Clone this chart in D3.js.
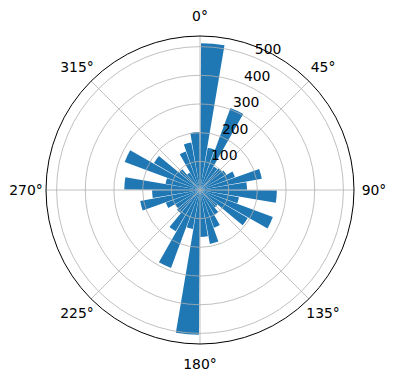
<!DOCTYPE html>
<html>
<head>
<meta charset="utf-8">
<script src="https://cdn.jsdelivr.net/npm/d3@7"></script>
<style>
  body { margin: 0; background: #fff; }
  text { font-family: "DejaVu Sans", sans-serif; }
</style>
</head>
<body>
<div class="js-polar"></div>
<script>
// bin start angles (degrees) and counts per 10 degree bin
var binStarts = [0, 10, 20, 30, 40, 50, 60, 70, 80, 90, 100, 110, 120, 130, 140, 150, 160, 170,
                 180, 190, 200, 210, 220, 230, 240, 250, 260, 270, 280, 290, 300, 310, 320, 330, 340, 350];
var counts = [512, 150, 305, 95, 100, 106, 130, 219, 164, 268, 138, 271, 193, 80, 100, 140, 191, 164,
              505, 138, 290, 167, 105, 100, 127, 212, 167, 264, 122, 280, 186, 95, 70, 143, 168, 202];
var radialTicks = [100, 200, 300, 400, 500];
var angleTicks = [0, 45, 90, 135, 180, 225, 270, 315];
var angleLabels = ["0°", "45°", "90°", "135°", "180°", "225°", "270°", "315°"];

var width = 396, height = 380;
var cx = 200, cy = 190, outer = 154;
var rmax = 537;
var binWidth = 10, barWidth = 9.2;

var svg = d3.select(".js-polar").append("svg")
  .attr("width", width)
  .attr("height", height);

var g = svg.append("g").attr("transform", "translate(" + cx + "," + cy + ")");

var r = d3.scaleLinear().domain([0, rmax]).range([0, outer]);
var rad = function(deg) { return deg * Math.PI / 180; };

// bars
var arc = d3.arc().innerRadius(0);
g.selectAll(".bar")
  .data(binStarts)
  .enter().append("path")
  .attr("fill", "#1f77b4")
  .attr("d", function(d, i) {
    var mid = d + binWidth / 2;
    return arc({
      outerRadius: r(counts[i]),
      startAngle: rad(mid - barWidth / 2),
      endAngle: rad(mid + barWidth / 2)
    });
  });

// grid circles (drawn over the bars, like the original)
g.selectAll(".ring")
  .data(radialTicks)
  .enter().append("circle")
  .attr("r", function(d) { return r(d); })
  .attr("fill", "none")
  .attr("stroke", "#b0b0b0")
  .attr("stroke-width", 0.8);

// angular grid lines
g.selectAll(".spoke")
  .data(angleTicks)
  .enter().append("line")
  .attr("x1", 0).attr("y1", 0)
  .attr("x2", function(d) { return outer * Math.sin(rad(d)); })
  .attr("y2", function(d) { return -outer * Math.cos(rad(d)); })
  .attr("stroke", "#b0b0b0")
  .attr("stroke-width", 0.8);

// outer frame
g.append("circle")
  .attr("r", outer)
  .attr("fill", "none")
  .attr("stroke", "#000")
  .attr("stroke-width", 1);

// angle labels
g.selectAll(".alabel")
  .data(angleTicks)
  .enter().append("text")
  .attr("x", function(d) { return 174 * Math.sin(rad(d)); })
  .attr("y", function(d) { return -174 * Math.cos(rad(d)); })
  .attr("dy", "0.36em")
  .attr("text-anchor", "middle")
  .attr("font-size", "13.9px")
  .attr("fill", "#000")
  .text(function(d, i) { return angleLabels[i]; });

// radial labels at 22.5 degrees
g.selectAll(".rlabel")
  .data(radialTicks)
  .enter().append("text")
  .attr("x", function(d) { return r(d) * Math.sin(rad(22.5)); })
  .attr("y", function(d) { return -r(d) * Math.cos(rad(22.5)) - 3.3; })
  .attr("text-anchor", "start")
  .attr("font-size", "13.9px")
  .attr("fill", "#000")
  .text(function(d) { return d; });
</script>
</body>
</html>
